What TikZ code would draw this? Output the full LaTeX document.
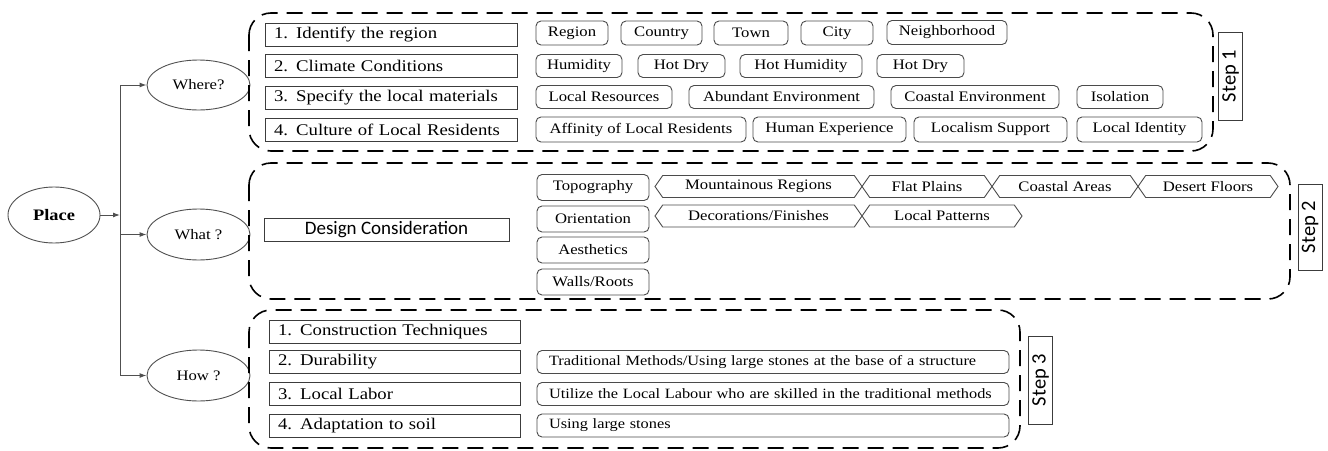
\documentclass[tikz,border=0pt]{standalone}
\usepackage{fontspec}
\setmainfont{Liberation Serif}[FakeStretch=1.15]
\newfontfamily\calibrifont{Carlito}
\usetikzlibrary{arrows,arrows.meta,shapes.geometric,shapes.symbols}

\begin{document}
\begin{tikzpicture}[x=1pt,y=-1pt,
    framebox/.style={draw=custcol_box, line width=1pt, minimum height=23pt, inner xsep=9pt, inner ysep=0pt, text width=#1, align=left, font=\rmfamily\fontsize{16.3}{18}\selectfont},
    chip/.style={draw=custcol_chip, rounded corners=5pt, line width=0.9pt, minimum width=#1, minimum height=24pt, inner sep=0pt, font=\fontsize{14.5}{16}\selectfont},
    longchip/.style={draw=custcol_chip, rounded corners=5pt, line width=0.9pt, minimum height=23pt, inner xsep=12pt, inner ysep=0pt, text width=#1, align=left, font=\fontsize{14.2}{16}\selectfont},
    hexa/.style={draw=custcol_chip, signal, signal to=west and east, signal pointer angle=110, line width=0.9pt, minimum width=#1, minimum height=22pt, inner sep=0pt, font=\fontsize{14.5}{16}\selectfont},
    ellip/.style={draw=custcol_line, ellipse, line width=0.9pt, minimum width=103pt, minimum height=51pt, inner sep=0pt, font=\fontsize{14.5}{16}\selectfont},
    steplabel/.style={draw=custcol_box, line width=1pt, rotate=90, minimum width=88pt, minimum height=24pt, inner sep=0pt, font=\calibrifont\fontsize{20.5}{22}\selectfont},
    groupbox/.style={draw=black, line width=1.6pt, rounded corners=22pt, dash pattern=on 16pt off 9pt},
    conn/.style={draw=custcol_line, line width=1pt},
    tip/.style={-{Latex[length=7pt,width=5pt]}}]
    \definecolor{custcol_box}{RGB}{60, 60, 60}
    \definecolor{custcol_chip}{RGB}{75, 75, 75}
    \definecolor{custcol_line}{RGB}{80, 80, 80}
    \useasboundingbox (0,0) rectangle (1328,450);

    % root and the three questions
    \node[ellip, minimum width=92pt, minimum height=56pt, font=\bfseries\fontsize{16}{18}\selectfont] (place) at (54,215) {Place};
    \node[ellip, minimum height=50pt] (where) at (198.5,85) {Where?};
    \node[ellip] (what) at (198.5,234.5) {What ?};
    \node[ellip] (how) at (198.5,375.5) {How ?};
    \coordinate (trunk) at (120,215);
    \draw[conn] (where.west -| trunk) -- (how.west -| trunk);
    \draw[conn,tip] (place.east) -- (trunk);
    \draw[conn,tip] (where.west -| trunk) -- (where.west);
    \draw[conn,tip] (what.west -| trunk) -- (what.west);
    \draw[conn,tip] (how.west -| trunk) -- (how.west);

    % step 1
    \draw[groupbox] (249,13) rectangle (1213,151);
    \node[framebox=234pt] (idregion) at (391,34.5) {1. Identify the region};
    \node[framebox=234pt] (climate) at (391,66) {2. Climate Conditions};
    \node[framebox=234pt] (materials) at (391,97.5) {3. Specify the local materials};
    \node[framebox=234pt] (culture) at (391,129.5) {4. Culture of Local Residents};
    \node[chip=72pt] (region) at (572,33) {Region};
    \node[chip=81pt] (country) at (661.5,33) {Country};
    \node[chip=74pt] (town) at (751,33) {Town};
    \node[chip=72pt] (city) at (837,33) {City};
    \node[chip=120pt] (neighborhood) at (947,32.5) {Neighborhood};
    \node[chip=86pt, minimum height=23pt] (humidity) at (579,66) {Humidity};
    \node[chip=87pt, minimum height=23pt] (hotdry) at (681.5,66) {Hot Dry};
    \node[chip=122pt, minimum height=23pt] (hothumid) at (801,66) {Hot Humidity};
    \node[chip=87pt, minimum height=23pt] (hotdryb) at (920.5,66) {Hot Dry};
    \node[chip=136pt, minimum height=23pt] (resources) at (604,97) {Local Resources};
    \node[chip=185pt, minimum height=23pt] (abundant) at (781.5,97) {Abundant Environment};
    \node[chip=168pt, minimum height=23pt] (coastalenv) at (975,97) {Coastal Environment};
    \node[chip=86pt, minimum height=23pt] (isolation) at (1120,97) {Isolation};
    \node[chip=210pt, minimum height=25pt] (affinity) at (641,129.5) {Affinity of Local Residents};
    \node[chip=153pt, minimum height=25pt] (humanexp) at (829.5,129.5) {Human Experience};
    \node[chip=153pt, minimum height=25pt] (localism) at (990.5,129.5) {Localism Support};
    \node[chip=125pt, minimum height=25pt] (identity) at (1139.5,129.5) {Local Identity};
    \node[steplabel] (stepone) at (1230.5,76) {Step 1};

    % step 2
    \draw[groupbox] (249,163) rectangle (1290,299);
    \node[draw=custcol_box, line width=1pt, minimum width=245pt, minimum height=23pt, inner sep=0pt, font=\calibrifont\fontsize{19}{21}\selectfont] (design) at (386.5,229.5) {Design Consideration};
    \node[chip=112pt, minimum height=26pt] (topography) at (593,187.5) {Topography};
    \node[chip=112pt, minimum height=26pt] (orientation) at (593,219) {Orientation};
    \node[chip=112pt, minimum height=26pt] (aesthetics) at (593,250) {Aesthetics};
    \node[chip=112pt, minimum height=26pt] (walls) at (593,282) {Walls/Roots};
    \node[hexa=207pt] (mountain) at (758.5,186.5) {Mountainous Regions};
    \node[hexa=130pt] (flat) at (927,186.5) {Flat Plains};
    \node[hexa=146pt] (coastal) at (1065,186.5) {Coastal Areas};
    \node[hexa=140pt] (desert) at (1208,186.5) {Desert Floors};
    \node[hexa=207pt] (decoration) at (758.5,216) {Decorations/Finishes};
    \node[hexa=160pt] (patterns) at (942,216) {Local Patterns};
    \node[steplabel, minimum width=86pt] (steptwo) at (1310,227) {Step 2};

    % step 3
    \draw[groupbox] (249,310) rectangle (1020,448);
    \node[framebox=233pt] (technique) at (394.5,331.5) {1. Construction Techniques};
    \node[framebox=233pt] (durability) at (394.5,362) {2. Durability};
    \node[framebox=233pt] (labor) at (394.5,394) {3. Local Labor};
    \node[framebox=233pt] (soil) at (394.5,425.5) {4. Adaptation to soil};
    \node[longchip=448pt] (traditional) at (773,362) {Traditional Methods/Using large stones at the base of a structure};
    \node[longchip=448pt] (labour) at (773,394) {Utilize the Local Labour who are skilled in the traditional methods};
    \node[longchip=448pt] (stones) at (773,425.5) {Using large stones};
    \node[steplabel] (stepthree) at (1040.5,380) {Step 3};
\end{tikzpicture}
\end{document}
